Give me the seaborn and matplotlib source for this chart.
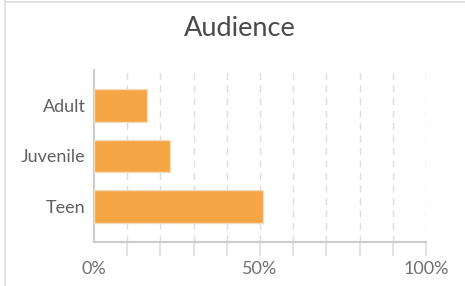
import pandas as pd
import seaborn as sns
import matplotlib.pyplot as plt
from matplotlib.ticker import FixedLocator

# Data
audience = ['Adult', 'Juvenile', 'Teen']
share = [16, 23, 51]  # percent

df = pd.DataFrame({'audience': audience, 'share': share})

sns.set_style('white')
plt.rcParams['font.family'] = ['Lato', 'DejaVu Sans']

fig = plt.figure(figsize=(4.65, 2.86), dpi=100)
ax = fig.add_axes([94 / 465, 1 - 242 / 286, (426 - 94) / 465, (242 - 70) / 286])

sns.barplot(data=df, x='share', y='audience', color='#F5A543', saturation=1,
            width=0.64, edgecolor='#f1dcc0', linewidth=1, ax=ax, zorder=3)

ax.set_xlim(0, 100)
ax.set_ylim(2.7, -0.7)
ax.xaxis.set_major_locator(FixedLocator([0, 50, 100]))
ax.set_xticklabels(['0%', '50%', '100%'])
ax.xaxis.set_minor_locator(FixedLocator(list(range(10, 101, 10))))
ax.xaxis.remove_overlapping_locs = False
ax.grid(axis='x', which='minor', color='#dddddd', linestyle=(0, (5, 4)), linewidth=1, zorder=0)
ax.set_xlabel('')
ax.set_ylabel('')

for side in ['top', 'right']:
    ax.spines[side].set_visible(False)
for side in ['left', 'bottom']:
    ax.spines[side].set_color('#cccccc')
    ax.spines[side].set_linewidth(1.5)

ax.tick_params(axis='x', which='major', bottom=True, length=0,
               labelsize=13, labelcolor='#707070', pad=14)
ax.tick_params(axis='x', which='minor', bottom=True, length=10, width=1.2, color='#dddddd')
ax.tick_params(axis='y', length=0, labelsize=13, labelcolor='#606060', pad=6)

fig.text(240 / 465, 1 - 29 / 286, 'Audience', ha='center', va='center',
         fontsize=19.5, color='#4a4a4a')

# Frame lines at the left and top of the card
fig.add_artist(plt.Line2D([5 / 465, 5 / 465], [0, 1], color='#dddddd', linewidth=1.2))
fig.add_artist(plt.Line2D([5 / 465, 1], [1 - 1.5 / 286, 1 - 1.5 / 286], color='#dddddd', linewidth=1.2))

fig.savefig('out.png', dpi=100)
